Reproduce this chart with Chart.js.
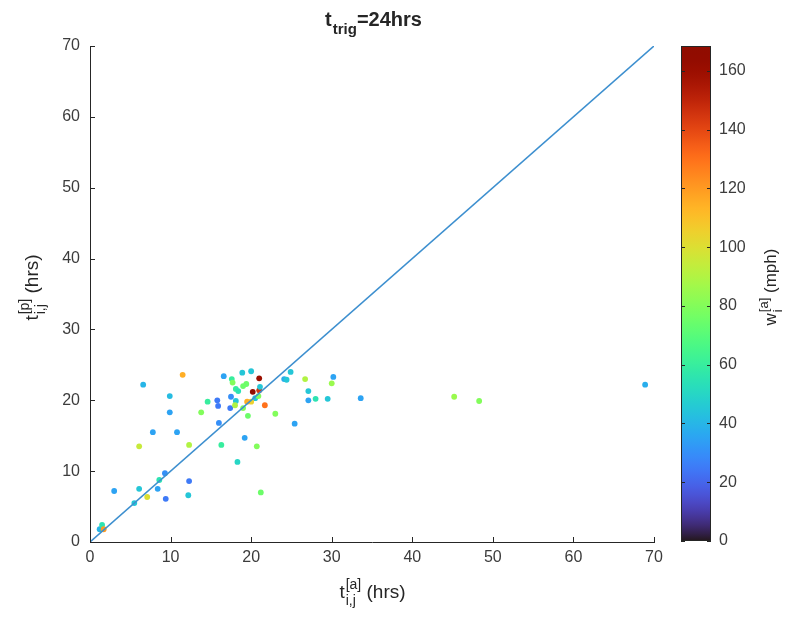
<!DOCTYPE html>
<html>
<head>
<meta charset="utf-8">
<title>t_trig = 24hrs</title>
<script src="https://cdn.jsdelivr.net/npm/chart.js@4.4.1/dist/chart.umd.min.js"></script>
<style>
  html, body { margin: 0; padding: 0; background: #fff; }
  #wrap { position: relative; width: 793px; height: 621px; }
  #wrap canvas { position: absolute; left: 0; top: 0; }
</style>
</head>
<body>
<div id="wrap">
  <canvas id="main" width="793" height="621"></canvas>
  <canvas id="cbar" width="793" height="621"></canvas>
</div>
<script>
// ── Data ─────────────────────────────────────────────────────────
const actualHrs = [
  1.2, 1.5, 1.7, 3.0, 5.5, 6.1, 7.1, 8.4, 8.6, 9.3,
  9.4, 12.2, 12.3, 6.1, 12.3, 7.8, 10.8, 9.9, 9.9, 6.6,
  11.5, 13.8, 14.6, 15.8, 15.9, 16.0, 16.3, 18.3, 19.2, 16.6,
  18.9, 20.0, 17.5, 18.1, 17.4, 18.0, 19.0, 19.6, 17.6, 17.7,
  18.1, 18.4, 19.0, 19.4, 21.0, 20.2, 21.0, 21.1, 20.5, 20.0,
  19.5, 21.7, 20.9, 23.0, 24.9, 24.1, 24.4, 26.7, 30.2, 30.0,
  27.1, 27.1, 28.0, 29.5, 25.4, 20.7, 21.2, 33.6, 45.2, 48.3,
  68.9
];
const predictedHrs = [
  1.8, 2.4, 1.8, 7.2, 5.5, 7.5, 6.35, 7.5, 8.75, 9.7,
  6.1, 6.6, 8.6, 13.5, 13.7, 15.5, 15.5, 18.3, 20.6, 22.2,
  23.6, 18.3, 19.8, 20.0, 19.2, 16.8, 13.7, 11.3, 14.7, 23.4,
  23.9, 24.1, 20.5, 19.9, 18.9, 19.3, 18.9, 17.8, 23.0, 22.5,
  21.6, 21.3, 22.0, 22.3, 23.1, 21.2, 21.4, 21.9, 20.3, 19.8,
  19.8, 19.3, 20.6, 18.1, 24.0, 23.0, 22.9, 23.0, 23.3, 22.4,
  21.3, 20.0, 20.2, 20.2, 16.7, 13.5, 7.0, 20.3, 20.5, 19.9,
  22.2
];
const windMph = [
  40, 55, 120, 35, 45, 45, 100, 35, 55, 30,
  25, 45, 25, 95, 90, 35, 35, 35, 42, 40,
  115, 80, 60, 25, 25, 30, 60, 50, 35, 35,
  45, 45, 30, 45, 25, 90, 80, 75, 60, 80,
  60, 55, 75, 75, 160, 165, 145, 45, 45, 105,
  115, 130, 80, 80, 45, 38, 45, 90, 35, 85,
  45, 35, 55, 45, 35, 80, 75, 35, 85, 80,
  38
];
const diagonalHrs = [0, 70];
const axisTicks = [0, 10, 20, 30, 40, 50, 60, 70];
const colorTicks = [0, 20, 40, 60, 80, 100, 120, 140, 160];
const colorMax = 168.5;

// ── Style ─────────────────────────────────────────────────────────
const FONT = "'Liberation Sans', Arial, Helvetica, sans-serif";
const INK = "#262626";
const TICK_INK = "#3c3c3c";
const LINE_BLUE = "#3d8fcf";

// turbo colormap (polynomial approximation)
function turbo(t) {
  t = Math.max(0, Math.min(1, t));
  const r = 0.13572138 + t * (4.61539260 + t * (-42.66032258 + t * (132.13108234 + t * (-152.94239396 + t * 59.28637943))));
  const g = 0.09140261 + t * (2.19418839 + t * (4.84296658 + t * (-14.18503333 + t * (4.27729857 + t * 2.82956604))));
  const b = 0.10667330 + t * (12.64194608 + t * (-60.58204836 + t * (110.36276771 + t * (-89.90310912 + t * 27.34824973))));
  const c = (v) => Math.round(255 * Math.max(0, Math.min(1, v)));
  return `rgb(${c(r)},${c(g)},${c(b)})`;
}

// text with stacked sub/superscript: base + {sub,sup} + tail
function scriptLabel(ctx, cx, cy, rot, base, sub, sup, tail, size, bold) {
  const w = bold ? "bold " : "";
  const big = `${w}${size}px ${FONT}`;
  const small = `${w}${Math.round(size * 0.74)}px ${FONT}`;
  ctx.save();
  ctx.translate(cx, cy);
  ctx.rotate(rot);
  ctx.fillStyle = INK;
  ctx.textAlign = "left";
  ctx.textBaseline = "alphabetic";
  ctx.font = big;
  const wb = ctx.measureText(base).width;
  const wt = ctx.measureText(tail).width;
  ctx.font = small;
  const ws = Math.max(sub ? ctx.measureText(sub).width : 0, sup ? ctx.measureText(sup).width : 0);
  let x = -(wb + ws + wt) / 2;
  ctx.font = big;
  ctx.fillText(base, x, 0);
  x += wb + 1;
  ctx.font = small;
  if (sub) ctx.fillText(sub, x, size * 0.38);
  if (sup) ctx.fillText(sup, x, -size * 0.5);
  x += ws;
  ctx.font = big;
  ctx.fillText(tail, x, 0);
  ctx.restore();
}

// ── Main scatter ──────────────────────────────────────────────────
const points = actualHrs.map((x, i) => ({ x, y: predictedHrs[i] }));
const pointColors = windMph.map((v) => turbo(v / colorMax));

const mainDecor = {
  id: "mainDecor",
  beforeDraw(chart) {
    const ctx = chart.ctx;
    ctx.save();
    ctx.fillStyle = "#fff";
    ctx.fillRect(0, 0, chart.width, chart.height);
    ctx.restore();
  },
  afterDraw(chart) {
    const { ctx, chartArea: a, scales } = chart;
    ctx.save();
    ctx.strokeStyle = INK;
    ctx.lineWidth = 1;
    ctx.beginPath();
    axisTicks.forEach((v) => {
      const px = Math.round(scales.x.getPixelForValue(v)) + 0.5;
      ctx.moveTo(px, a.bottom);
      ctx.lineTo(px, a.bottom - 5);
      const py = Math.round(scales.y.getPixelForValue(v)) + 0.5;
      ctx.moveTo(a.left, py);
      ctx.lineTo(a.left + 5, py);
    });
    ctx.stroke();
    ctx.restore();

    const cx = (a.left + a.right) / 2;
    scriptLabel(ctx, cx + 1, 26, 0, "t", "trig", "", "=24hrs", 20, true);
    scriptLabel(ctx, cx, 598, 0, "t", "i,j", "[a]", " (hrs)", 19, false);
    scriptLabel(ctx, 38, (a.top + a.bottom) / 2 - 6, -Math.PI / 2, "t", "i,j", "[p]", " (hrs)", 19, false);
  },
};

const tickFont = { family: FONT, size: 16 };

new Chart(document.getElementById("main"), {
  type: "scatter",
  data: {
    datasets: [
      {
        type: "line",
        data: diagonalHrs.map((v) => ({ x: v, y: v })),
        borderColor: LINE_BLUE,
        borderWidth: 1.6,
        pointRadius: 0,
        fill: false,
      },
      {
        data: points,
        backgroundColor: pointColors,
        borderWidth: 0,
        pointRadius: 2.9,
      },
    ],
  },
  options: {
    responsive: false,
    animation: false,
    events: [],
    layout: { padding: { left: 0, top: 46, right: 139, bottom: 0 } },
    plugins: { legend: { display: false }, tooltip: { enabled: false } },
    scales: {
      x: {
        type: "linear",
        min: 0,
        max: 70,
        afterBuildTicks: (s) => { s.ticks = axisTicks.map((v) => ({ value: v })); },
        afterFit: (s) => { s.height = 79; },
        grid: { display: false, drawTicks: false },
        border: { display: true, color: INK, width: 1 },
        ticks: { font: tickFont, color: TICK_INK, padding: 6, maxRotation: 0 },
      },
      y: {
        type: "linear",
        min: 0,
        max: 70,
        afterBuildTicks: (s) => { s.ticks = axisTicks.map((v) => ({ value: v })); },
        afterFit: (s) => { s.width = 90; },
        grid: { display: false, drawTicks: false },
        border: { display: true, color: INK, width: 1 },
        ticks: { font: tickFont, color: TICK_INK, padding: 10 },
      },
    },
  },
  plugins: [mainDecor],
});

// ── Colorbar ──────────────────────────────────────────────────────
const cbarDecor = {
  id: "cbarDecor",
  beforeDatasetsDraw(chart) {
    const { ctx, chartArea: a, scales } = chart;
    const grad = ctx.createLinearGradient(0, a.bottom, 0, a.top);
    for (let i = 0; i <= 64; i++) grad.addColorStop(i / 64, turbo(i / 64));
    ctx.save();
    ctx.fillStyle = grad;
    ctx.fillRect(a.left, a.top, a.right - a.left, a.bottom - a.top);
    ctx.strokeStyle = INK;
    ctx.lineWidth = 1;
    ctx.strokeRect(a.left + 0.5, a.top + 0.5, a.right - a.left - 1, a.bottom - a.top - 1);
    ctx.beginPath();
    colorTicks.forEach((v) => {
      const py = Math.round(scales.y.getPixelForValue(v)) + 0.5;
      ctx.moveTo(a.right, py);
      ctx.lineTo(a.right - 4, py);
      ctx.moveTo(a.left, py);
      ctx.lineTo(a.left + 4, py);
    });
    ctx.stroke();
    ctx.restore();
    scriptLabel(ctx, 776, (a.top + a.bottom) / 2 - 6, -Math.PI / 2, "w", "i", "[a]", " (mph)", 17, false);
  },
};

new Chart(document.getElementById("cbar"), {
  type: "scatter",
  data: { datasets: [{ data: [] }] },
  options: {
    responsive: false,
    animation: false,
    events: [],
    layout: { padding: { left: 681, top: 46, right: 0, bottom: 80 } },
    plugins: { legend: { display: false }, tooltip: { enabled: false } },
    scales: {
      x: { type: "linear", min: 0, max: 1, display: false },
      y: {
        type: "linear",
        position: "right",
        min: 0,
        max: colorMax,
        afterBuildTicks: (s) => { s.ticks = colorTicks.map((v) => ({ value: v })); },
        afterFit: (s) => { s.width = 82; },
        grid: { display: false, drawTicks: false },
        border: { display: false },
        ticks: { font: tickFont, color: TICK_INK, padding: 8 },
      },
    },
  },
  plugins: [cbarDecor],
});
</script>
</body>
</html>
